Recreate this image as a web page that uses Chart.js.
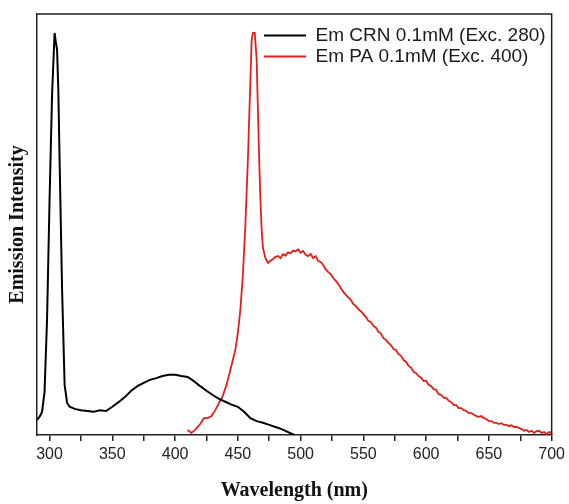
<!DOCTYPE html>
<html>
<head>
<meta charset="utf-8">
<script src="https://cdn.jsdelivr.net/npm/chart.js@4.4.1/dist/chart.umd.min.js"></script>
<style>
  html, body { margin: 0; padding: 0; background: #fff; }
  #wrap { width: 569px; height: 504px; }
</style>
</head>
<body>
<div id="wrap"><canvas id="c" width="569" height="504"></canvas></div>
<script>
// ---- Data ----
const seriesLabels = ['Em CRN 0.1mM (Exc. 280)', 'Em PA 0.1mM (Exc. 400)'];

const crnWavelength = [290,292,294,296,298,300,302,304,305,306,307,308,310,312,314,316,320,325,330,335,340,345,350,355,360,365,370,375,380,385,390,395,400,405,410,415,420,425,430,435,440,445,450,455,460,465,470,475,480,485,490,495];
const crnIntensity  = [36,43,55,102,273,558,808,955,933,914,819,653,344,119,76,67,62,59,57,55,59,57,67,78,90,105,116,124,131,135,140,143,143,140,138,128,116,105,95,86,79,72,67,55,40,33,29,24,19,14,7,0];

const paWavelength = [410,413,416,420,423,426,429,432,435,438,441,444,446,448,450,452,454,456,458,460,461,462,463.5,465,466,467,468,469,470,472,474,476,478,480,482,484,486,488,490,492,494,496,498,500,502,504,506,508,510,512,514,516,518,520,522,524,526,528,530,532,534,536,538,540,542,544,546,548,550,552,554,556,558,560,562,564,566,568,570,572,574,576,578,580,582,584,586,588,590,592,594,596,598,600,602,604,606,608,610,612,614,616,618,620,622,624,626,628,630,632,634,636,638,640,642,644,646,648,650,652,654,656,658,660,662,664,666,668,670,672,674,676,678,680,682,684,686,688,690,692,694,696,698,700];
const paIntensity  = [12,5,12,26,40,40,45,59,76,93,119,154,178,202,242,297,380,499,653,843,938,955,955,891,772,653,558,487,444,420,409,414,418,423,425,420,430,426,434,432,438,436,441,433,437,428,425,430,420,425,413,411,404,394,387,382,373,366,359,349,340,333,327,321,311,306,299,294,287,280,271,268,259,255,245,241,230,226,219,213,204,202,192,188,178,174,164,160,150,147,140,136,128,129,119,116,109,107,97,95,88,88,81,78,71,71,64,64,59,57,52,52,48,45,43,45,40,38,33,33,29,29,26,28,24,24,21,23,19,19,17,14,10,12,7,10,5,9,10,5,7,2,7,5,7,3,5,2];

const xTickValues = [300,325,350,375,400,425,450,475,500,525,550,575,600,625,650,675,700];
const xMin = 290, xMax = 700;
const yMin = 0, yMax = 1000;

// ---- Build datasets ----
function toPoints(xs, ys) { return xs.map((x, i) => ({ x: x, y: ys[i] })); }

const framePlugin = {
  id: 'frame',
  afterDatasetsDraw(chart) {
    const a = chart.chartArea, ctx = chart.ctx;
    ctx.save();
    ctx.strokeStyle = '#222';
    ctx.lineWidth = 1.5;
    ctx.beginPath();
    ctx.moveTo(a.left, a.top);
    ctx.lineTo(a.right, a.top);
    ctx.lineTo(a.right, a.bottom);
    ctx.stroke();
    ctx.restore();
  }
};

const legendPlacer = {
  id: 'legendPlacer',
  afterLayout(chart) {
    const lg = chart.legend, a = chart.chartArea;
    if (!lg) return;
    const w = lg.width, h = lg.height;
    lg.left = a.left + 225; lg.right = lg.left + w;
    lg.top = a.top + 10; lg.bottom = lg.top + h;
  }
};

new Chart(document.getElementById('c'), {
  type: 'line',
  data: {
    datasets: [
      { label: seriesLabels[0], data: toPoints(crnWavelength, crnIntensity),
        borderColor: '#000000', backgroundColor: '#000000', borderWidth: 2,
        pointRadius: 0, tension: 0, fill: false },
      { label: seriesLabels[1], data: toPoints(paWavelength, paIntensity),
        borderColor: '#e0201c', backgroundColor: '#e0201c', borderWidth: 1.8,
        pointRadius: 0, tension: 0, fill: false }
    ]
  },
  options: {
    responsive: false,
    animation: false,
    devicePixelRatio: 1,
    layout: { padding: { top: 14, right: 15, left: 0, bottom: 0 } },
    plugins: {
      tooltip: { enabled: false },
      legend: {
        position: 'chartArea',
        align: 'start',
        labels: {
          boxWidth: 42, boxHeight: 0, padding: 2,
          color: '#1a1a1a',
          font: { family: '"Liberation Sans", Arial, sans-serif', size: 19 }
        }
      }
    },
    scales: {
      x: {
        type: 'linear', min: xMin, max: xMax,
        afterFit(s) { s.height = 69; },
        afterBuildTicks(s) { s.ticks = xTickValues.map(v => ({ value: v })); },
        border: { display: true, color: '#222', width: 1.5 },
        grid: { display: true, drawOnChartArea: false, drawTicks: true, tickLength: 6, color: '#222', lineWidth: 1.5 },
        ticks: {
          autoSkip: false, maxRotation: 0, padding: 4,
          color: '#222',
          font: { family: '"Liberation Sans", Arial, sans-serif', size: 16 },
          callback: (v) => (v % 50 === 0 ? String(v) : '')
        },
        title: {
          display: true, text: 'Wavelength (nm)', color: '#111',
          font: { family: '"Liberation Serif", "Times New Roman", serif', size: 20, weight: 'bold' },
          padding: { top: 0, bottom: 1 }
        }
      },
      y: {
        min: yMin, max: yMax,
        afterFit(s) { s.width = 37; },
        border: { display: true, color: '#222', width: 1.5 },
        grid: { display: false, drawTicks: false },
        ticks: { display: false },
        title: {
          display: true, text: 'Emission Intensity', color: '#111',
          font: { family: '"Liberation Serif", "Times New Roman", serif', size: 20, weight: 'bold' },
          padding: { top: 6, bottom: 0 }
        }
      }
    }
  },
  plugins: [framePlugin, legendPlacer]
});
</script>
</body>
</html>
